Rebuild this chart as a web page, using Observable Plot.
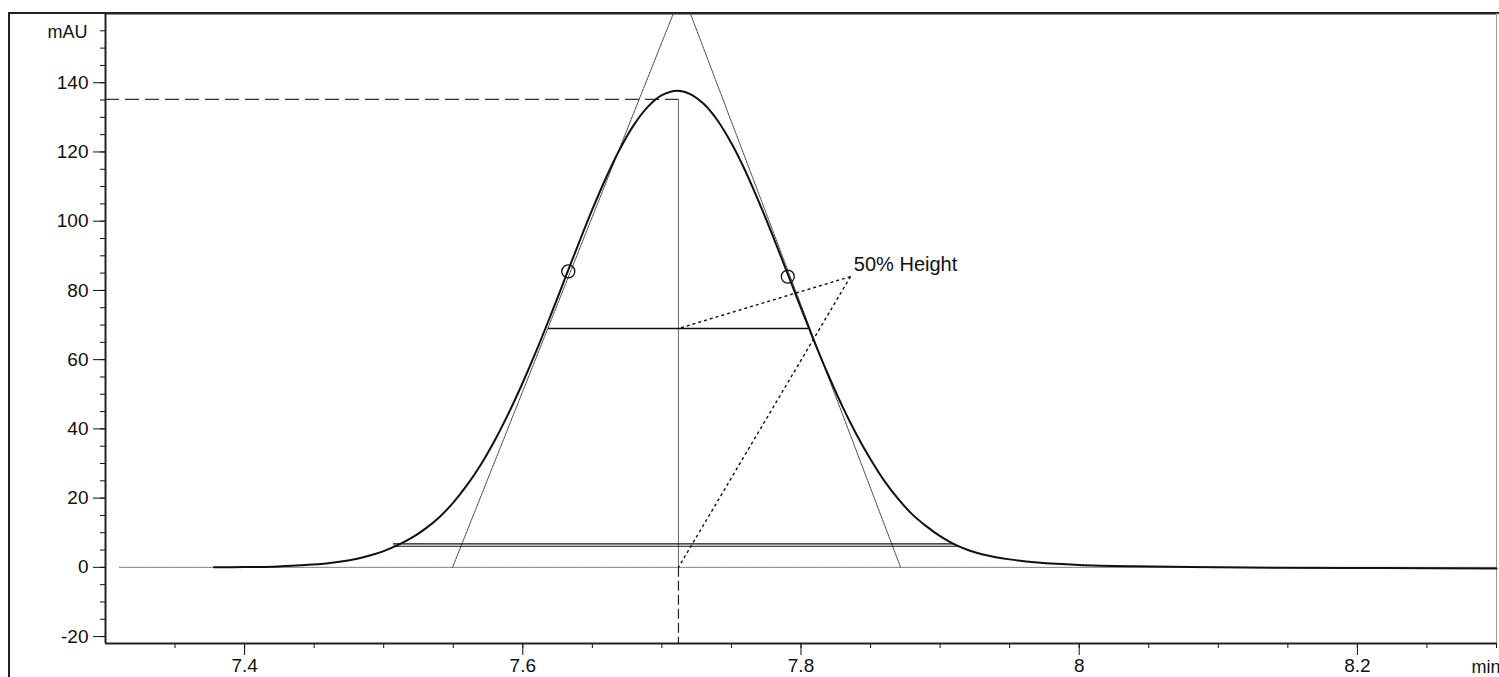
<!DOCTYPE html>
<html><head><meta charset="utf-8">
<script src="https://cdn.jsdelivr.net/npm/d3@7"></script>
<script src="https://cdn.jsdelivr.net/npm/@observablehq/plot@0.6"></script>
<style>
body{margin:0;background:#fff;}
#wrap{position:relative;width:1499px;height:677px;overflow:hidden;}
#outer{position:absolute;left:8px;top:12px;width:1491px;height:670px;border-left:2px solid #222;border-top:2px solid #222;pointer-events:none;}
#wrap svg{position:absolute;left:0;top:0;}
</style></head><body><div id="wrap"><div id="outer"></div></div>
<script>
// ---- chromatogram signal ----
const timeMin = [7.378, 7.40, 7.42, 7.44, 7.46, 7.48, 7.49, 7.50, 7.51, 7.52, 7.53, 7.54, 7.55, 7.56, 7.57, 7.58, 7.59, 7.60, 7.61, 7.62, 7.63, 7.64, 7.65, 7.66, 7.67, 7.68, 7.69, 7.70, 7.711, 7.72, 7.73, 7.74, 7.75, 7.76, 7.77, 7.78, 7.79, 7.80, 7.81, 7.82, 7.83, 7.84, 7.85, 7.86, 7.87, 7.88, 7.89, 7.90, 7.91, 7.92, 7.93, 7.95, 7.97, 8.00, 8.04, 8.08, 8.14, 8.22, 8.30];
const signalMAU = [0.0, 0.1, 0.2, 0.6, 1.2, 2.4, 3.4, 4.7, 6.4, 8.5, 11.2, 14.5, 18.7, 23.8, 29.8, 36.8, 44.7, 53.4, 62.8, 72.8, 83.1, 93.4, 103.4, 112.7, 121.0, 127.9, 133.1, 136.4, 137.7, 136.8, 133.9, 129.1, 122.5, 114.5, 105.3, 95.5, 85.2, 74.9, 64.8, 55.2, 46.3, 38.3, 31.2, 24.9, 19.7, 15.3, 11.9, 9.0, 6.7, 5.0, 3.8, 2.3, 1.4, 0.7, 0.3, 0.1, -0.1, -0.2, -0.3];

// ---- annotation geometry ----
const baselineX = [7.31, 8.30];
const tangentX = [7.5495, 7.7145, 7.8716];
const tangentY = [0, 166.3, 0];
const inflectionX = [7.6327, 7.7905];
const inflectionY = [85.5, 84.0];
const retentionTime = 7.7119;
const markedHeight = 135.2;
const halfHeight = 69;
const halfWidthX = [7.6185, 7.8054];
const baseWidthY = [6.8, 6.1];
const baseWidthX1 = [7.507, 7.507];
const baseWidthX2 = [7.911, 7.9135];
const labelX = 7.8356, labelY = 84.0;
const labelText = "50% Height";
const labelTextX = 7.838, labelTextY = 87.5;

// ---- axes ----
const xDomain = [7.3, 8.3];
const yDomain = [-22, 160];
const xMajor = [7.4, 7.6, 7.8, 8, 8.2];
const xMinor = d3.range(7.35, 8.31, 0.05).map(v => +v.toFixed(2));
const yMajor = [-20, 0, 20, 40, 60, 80, 100, 120, 140];
const yMinor = d3.range(-20, 156, 5);
const xTickLabels = ["7.4", "7.6", "7.8", "8", "8.2"];
const yTickLabels = ["-20", "0", "20", "40", "60", "80", "100", "120", "140"];
const yUnit = "mAU";
const xUnit = "min";

const font = "Arial, 'Liberation Sans', sans-serif";
const ink = "#111";

const chart = Plot.plot({
  width: 1499, height: 677,
  marginLeft: 105, marginRight: 3, marginTop: 13, marginBottom: 34,
  style: {fontFamily: font, fontSize: "19px", color: ink, background: "transparent", overflow: "visible"},
  x: {domain: xDomain},
  y: {domain: yDomain},
  marks: [
    // frame
    Plot.ruleX([xDomain[1]], {stroke: "#999", strokeWidth: 1}),
    Plot.ruleY([yDomain[1]], {stroke: "#222", strokeWidth: 2}),
    // axes (ticks)
    Plot.axisY(yMinor, {anchor: "left", tickSize: 5, tickFormat: () => "", label: null, stroke: ink}),
    Plot.axisY(yMajor, {anchor: "left", tickSize: 12, tickFormat: () => "", label: null, stroke: ink}),
    Plot.axisX(xMinor, {anchor: "bottom", tickSize: 5, tickFormat: () => "", label: null, stroke: ink}),
    Plot.axisX(xMajor, {anchor: "bottom", tickSize: 12, tickFormat: () => "", label: null, stroke: ink}),
    // tick labels
    Plot.text(yTickLabels, {y: (d, i) => yMajor[i], frameAnchor: "left", dx: -17, textAnchor: "end", fontSize: 19, fill: ink}),
    Plot.text(xTickLabels, {x: (d, i) => xMajor[i], frameAnchor: "bottom", dy: 15, lineAnchor: "top", fontSize: 19, fill: ink}),
    Plot.ruleX([xDomain[0]], {stroke: "#222", strokeWidth: 2}),
    Plot.ruleY([yDomain[0]], {stroke: "#222", strokeWidth: 2}),
    Plot.text([yUnit], {frameAnchor: "top-left", dx: -18, dy: 12, textAnchor: "end", fontSize: 18, fill: ink}),
    Plot.text([xUnit], {frameAnchor: "bottom-right", dx: 4, dy: 17, lineAnchor: "top", textAnchor: "end", fontSize: 18, fill: ink}),
    // baseline
    Plot.line(baselineX, {x: d => d, y: () => 0, stroke: "#777", strokeWidth: 1, strokeDasharray: "2,1"}),
    // tangents
    Plot.line(tangentX, {x: d => d, y: (d, i) => tangentY[i], stroke: "#444", strokeWidth: 1, strokeDasharray: "2,1", clip: true}),
    // peak marker lines
    Plot.ruleY([markedHeight], {x1: xDomain[0], x2: retentionTime, stroke: "#333", strokeWidth: 1.2, strokeDasharray: "14,6"}),
    Plot.ruleX([retentionTime], {y1: markedHeight, y2: 0, stroke: "#666", strokeWidth: 1}),
    Plot.ruleX([retentionTime], {y1: 0, y2: yDomain[0], stroke: "#222", strokeWidth: 1.2, strokeDasharray: "10,4"}),
    // widths
    Plot.ruleY([halfHeight], {x1: halfWidthX[0], x2: halfWidthX[1], stroke: ink, strokeWidth: 1.5}),
    Plot.ruleY(baseWidthY, {x1: (d, i) => baseWidthX1[i], x2: (d, i) => baseWidthX2[i], stroke: ink, strokeWidth: 1.2}),
    // annotation
    Plot.link([halfHeight, 0], {x1: () => labelX, y1: () => labelY, x2: () => retentionTime, y2: d => d, stroke: ink, strokeWidth: 1.4, strokeDasharray: "3,3"}),
    Plot.text([labelText], {x: () => labelTextX, y: () => labelTextY, textAnchor: "start", fontSize: 20, fill: ink}),
    // signal
    Plot.line(timeMin, {x: d => d, y: (d, i) => signalMAU[i], curve: "catmull-rom", stroke: ink, strokeWidth: 2}),
    // inflection circles
    Plot.dot(inflectionX, {x: d => d, y: (d, i) => inflectionY[i], r: 6.5, stroke: ink, strokeWidth: 1.3, fill: "none"})
  ]
});
document.getElementById("wrap").appendChild(chart);
</script>
</body></html>
